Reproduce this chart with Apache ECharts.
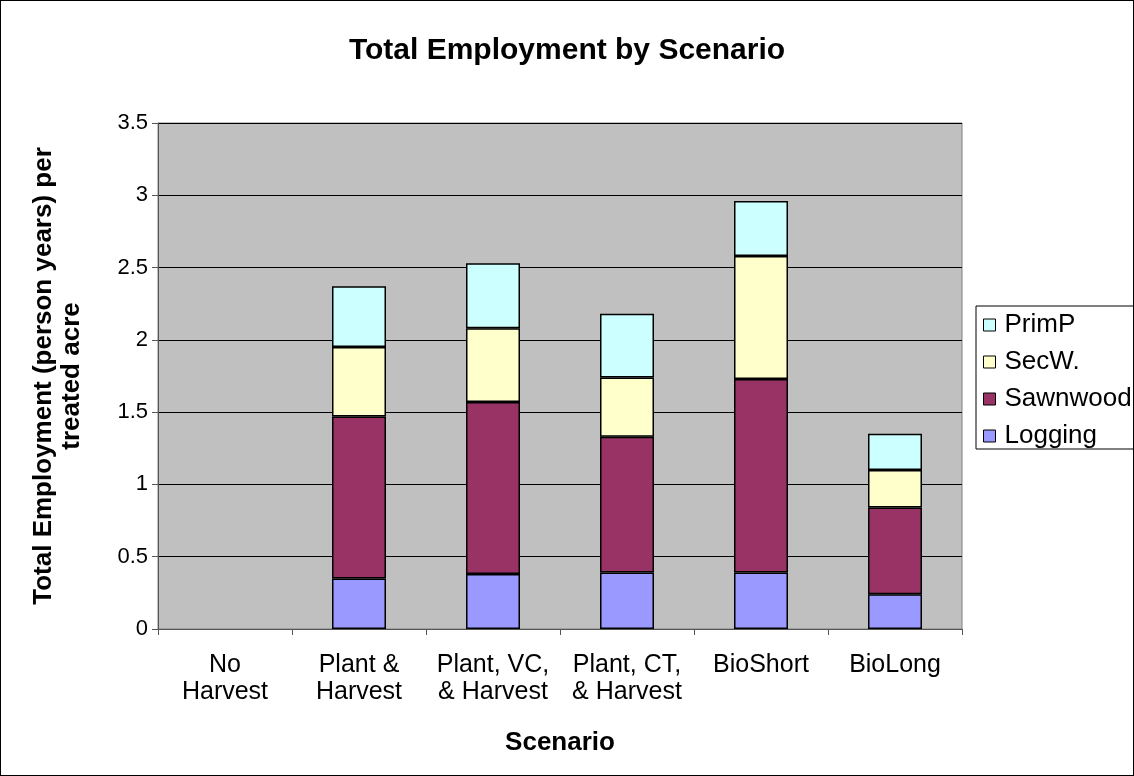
<!DOCTYPE html>
<html><head><meta charset="utf-8">
<script src="https://cdn.jsdelivr.net/npm/echarts@6/dist/echarts.min.js"></script>
<style>html,body{margin:0;padding:0;background:#fff}#c{width:1134px;height:776px;box-sizing:border-box;border:1px solid #000}</style>
</head><body><div id="c"></div>
<script>
var categories = ["No\nHarvest", "Plant &\nHarvest", "Plant, VC,\n& Harvest", "Plant, CT,\n& Harvest", "BioShort", "BioLong"];
var logging  = [0, 0.35, 0.38, 0.39, 0.39, 0.24];
var sawnwood = [0, 1.12, 1.19, 0.94, 1.34, 0.60];
var secW     = [0, 0.48, 0.51, 0.41, 0.85, 0.26];
var primP    = [0, 0.42, 0.45, 0.44, 0.38, 0.25];
var yTicks = [0, 0.5, 1, 1.5, 2, 2.5, 3, 3.5];

var font = "'Liberation Sans', Arial, sans-serif";
var chart = echarts.init(document.getElementById('c'), null, {renderer: 'canvas'});
function ser(name, data, color) {
  return {name: name, type: 'bar', stack: 'total',
    data: data.map(function (v) { return v === 0 ? null : v; }), barWidth: 54,
    itemStyle: {color: color, borderColor: '#000', borderWidth: 1.5}, emphasis: {disabled: true}};
}
chart.setOption({
  animation: false,
  textStyle: {fontFamily: font},
  title: {text: 'Total Employment by Scenario', left: 'center', top: 30,
    textStyle: {fontFamily: font, fontSize: 30, fontWeight: 'bold', color: '#000'}},
  grid: {left: 157, right: 171, top: 122, bottom: 146, show: true, backgroundColor: '#C0C0C0', borderColor: '#808080', borderWidth: 1},
  legend: {orient: 'vertical', left: 975, top: 305, padding: [6, 10, 0, 7], itemGap: 11,
    backgroundColor: '#fff', borderColor: '#000', borderWidth: 1,
    data: ['PrimP', 'SecW.', 'Sawnwood', 'Logging'],
    icon: 'rect', itemWidth: 12, itemHeight: 12,
    itemStyle: {borderColor: '#000', borderWidth: 1},
    textStyle: {fontFamily: font, fontSize: 26, lineHeight: 26, color: '#000', padding: [0, 0, 0, 4]}},
  xAxis: {type: 'category', data: categories,
    name: 'Scenario', nameLocation: 'middle', nameGap: 101,
    nameTextStyle: {fontFamily: font, fontSize: 26, fontWeight: 'bold', color: '#000', verticalAlign: 'top'},
    axisLine: {lineStyle: {color: '#555', width: 1}},
    axisTick: {show: true, length: 6, lineStyle: {color: '#555'}},
    axisLabel: {fontFamily: font, fontSize: 25, color: '#000', margin: 23, lineHeight: 27, interval: 0}},
  yAxis: {type: 'value', min: 0, max: 3.5, interval: 0.5,
    name: 'Total Employment (person years) per\ntreated acre', nameLocation: 'middle', nameGap: 72,
    nameTextStyle: {fontFamily: font, fontSize: 26, fontWeight: 'bold', color: '#000', lineHeight: 28},
    axisLine: {show: true, lineStyle: {color: '#555', width: 1}},
    axisTick: {show: true, length: 6, lineStyle: {color: '#555'}},
    splitLine: {show: true, lineStyle: {color: '#000', width: 1}},
    axisLabel: {fontFamily: font, fontSize: 22, color: '#000', margin: 10,
      formatter: function (v) { return yTicks.indexOf(v) >= 0 ? String(v) : ''; }}},
  series: [
    ser('Logging', logging, '#9999FF'),
    ser('Sawnwood', sawnwood, '#993366'),
    ser('SecW.', secW, '#FFFFCC'),
    ser('PrimP', primP, '#CCFFFF')
  ]
});
</script></body></html>
